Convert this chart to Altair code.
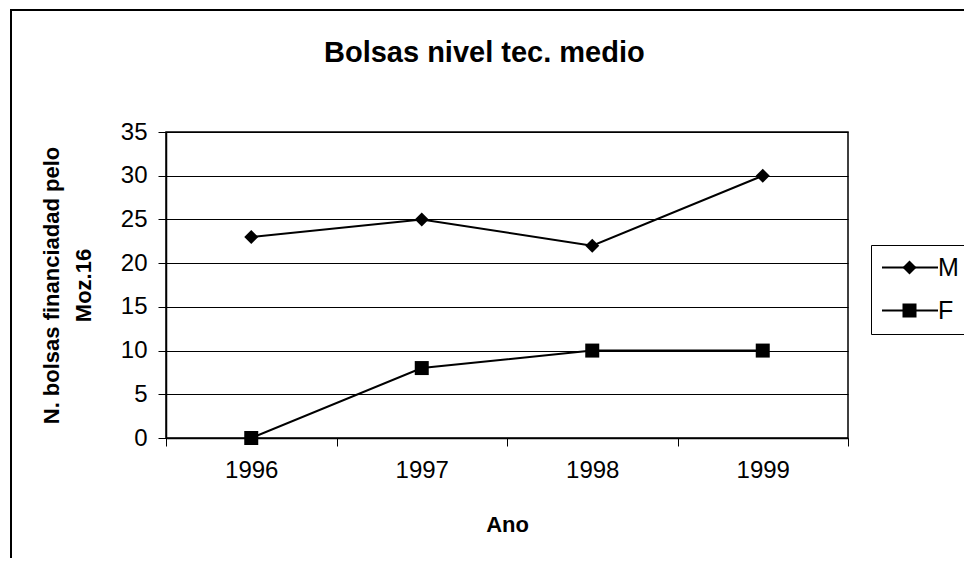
import altair as alt
import pandas as pd

years = ["1996", "1997", "1998", "1999"]
m_values = [23, 25, 22, 30]
f_values = [0, 8, 10, 10]
series_names = ["M", "F"]
y_ticks = [0, 5, 10, 15, 20, 25, 30, 35]

rows = []
for name, vals in zip(series_names, [m_values, f_values]):
    for yr, v in zip(years, vals):
        rows.append({"Ano": yr, "valor": v, "serie": name})
df = pd.DataFrame(rows)

FONT = "Liberation Sans"

x_enc = alt.X("Ano:O", sort=years,
              scale=alt.Scale(paddingInner=0, paddingOuter=0),
              axis=alt.Axis(title="Ano", labelAngle=0, tickBand="extent",
                            labelFontSize=24, labelPadding=12, tickSize=8,
                            tickColor="black", domainColor="black", domainWidth=1.5,
                            labelColor="black", titleFontSize=22, titleFontWeight="bold",
                            titlePadding=32, titleColor="black", grid=False))
y_enc = alt.Y("valor:Q", scale=alt.Scale(domain=[0, 35], nice=False),
              axis=alt.Axis(title=["N. bolsas financiadad pelo", "Moz.16"],
                            values=y_ticks, labelFontSize=24, labelPadding=11,
                            tickSize=8, tickColor="black", domainColor="black",
                            domainWidth=1.5, labelColor="black", grid=True,
                            gridColor="black", gridWidth=1,
                            titleFontSize=22, titleFontWeight="bold",
                            titleColor="black", titleLineHeight=32,
                            titleAngle=270, titleBaseline="alphabetic",
                            titleX=-108, titleY=153, titleAlign="center"))

base = alt.Chart(df)

# legend drawing the line part of each key (and the legend box)
line_legend = alt.Legend(title=None, orient="none", legendX=705, legendY=113,
                         symbolType="stroke", symbolSize=3136, symbolStrokeWidth=2,
                         symbolStrokeColor="black", clipHeight=25, rowPadding=17,
                         padding=10, labelOffset=34, labelFontSize=25,
                         labelExpr="''", strokeColor="black", fillColor="white")

# legend drawing the markers and labels on top of the lines
shape_legend = alt.Legend(title=None, orient="none", legendX=721, legendY=113,
                          symbolSize=196, symbolFillColor="black",
                          symbolOpacity=1, clipHeight=25, rowPadding=17,
                          padding=10, labelOffset=16, labelFontSize=25,
                          labelColor="black", zindex=2)

lines = base.mark_line(strokeWidth=2).encode(
    x=x_enc, y=y_enc,
    color=alt.Color("serie:N", scale=alt.Scale(domain=series_names,
                                               range=["black", "black"]),
                    legend=line_legend))

points = base.mark_point(filled=True, color="black", size=196, opacity=1).encode(
    x=x_enc, y=y_enc,
    shape=alt.Shape("serie:N", sort=series_names,
                    scale=alt.Scale(range=["diamond", "square"]),
                    legend=shape_legend))

frame = alt.Chart(pd.DataFrame({"a": [0]})).mark_rect(
    fillOpacity=0, stroke="black", strokeWidth=2).encode(
    x=alt.value(-155), x2=alt.value(820), y=alt.value(-122), y2=alt.value(460))

chart = alt.layer(frame, lines, points).properties(
    width=682, height=306,
    title=alt.TitleParams("Bolsas nivel tec. medio", fontSize=29, fontWeight="bold",
                          font=FONT, anchor="start", dx=314, offset=0, dy=82,
                          baseline="alphabetic", color="black"),
    padding={"left": 158, "top": 124, "right": 116, "bottom": 120},
    autosize="none",
).configure(font=FONT, background="white").configure_view(
    stroke="black", strokeWidth=1.5, fill="white"
).configure_axis(labelFont=FONT, titleFont=FONT).configure_legend(
    labelFont=FONT)

chart.save("out.html", embed_options={"renderer": "svg", "actions": False})
